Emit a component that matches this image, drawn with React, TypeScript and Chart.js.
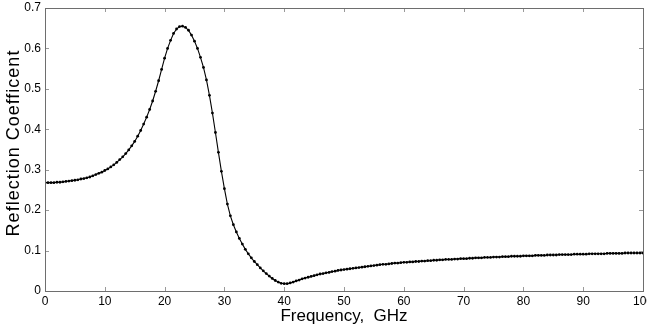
import React, { useEffect, useRef } from "react";
import { Chart, registerables } from "chart.js";

Chart.register(...registerables);

// Frequency grid (GHz): samples every 0.5 GHz from 0 to 100
const FREQ_START = 0;
const FREQ_STEP = 0.5;

// Reflection coefficient, one value per 0.5 GHz
const reflection: number[] = [
  0.268, 0.268, 0.268, 0.268, 0.269, 0.269, 0.270, 0.271, 0.272, 0.273,
  0.274, 0.275, 0.277, 0.278, 0.280, 0.282, 0.285, 0.288, 0.291, 0.294,
  0.298, 0.302, 0.307, 0.312, 0.318, 0.325, 0.332, 0.340, 0.349, 0.359,
  0.370, 0.383, 0.397, 0.413, 0.430, 0.449, 0.470, 0.494, 0.520, 0.548,
  0.576, 0.600, 0.620, 0.637, 0.648, 0.654, 0.655, 0.652, 0.645, 0.633,
  0.618, 0.600, 0.578, 0.553, 0.522, 0.484, 0.440, 0.392, 0.343, 0.296,
  0.253, 0.215, 0.186, 0.164, 0.146, 0.130, 0.116, 0.103, 0.092, 0.082,
  0.073, 0.065, 0.057, 0.050, 0.043, 0.037, 0.031, 0.026, 0.022, 0.019,
  0.018, 0.018, 0.020, 0.022, 0.025, 0.027, 0.030, 0.032, 0.034, 0.036,
  0.038, 0.040, 0.042, 0.043, 0.045, 0.046, 0.048, 0.049, 0.051, 0.052,
  0.053, 0.054, 0.055, 0.056, 0.057, 0.058, 0.059, 0.060, 0.061, 0.062,
  0.063, 0.064, 0.065, 0.066, 0.066, 0.067, 0.068, 0.069, 0.069, 0.070,
  0.071, 0.071, 0.072, 0.072, 0.073, 0.073, 0.074, 0.074, 0.075, 0.075,
  0.076, 0.076, 0.077, 0.077, 0.078, 0.078, 0.078, 0.079, 0.079, 0.080,
  0.080, 0.080, 0.081, 0.081, 0.082, 0.082, 0.082, 0.083, 0.083, 0.083,
  0.084, 0.084, 0.084, 0.085, 0.085, 0.085, 0.086, 0.086, 0.086, 0.086,
  0.087, 0.087, 0.087, 0.087, 0.088, 0.088, 0.088, 0.088, 0.089, 0.089,
  0.089, 0.089, 0.090, 0.090, 0.090, 0.090, 0.090, 0.091, 0.091, 0.091,
  0.091, 0.091, 0.092, 0.092, 0.092, 0.092, 0.092, 0.092, 0.093, 0.093,
  0.093, 0.093, 0.093, 0.093, 0.094, 0.094, 0.094, 0.094, 0.094, 0.094,
  0.094,
];

const frequency: number[] = reflection.map((_, i) => FREQ_START + i * FREQ_STEP);

const X_MIN = 0;
const X_MAX = 100;
const X_STEP = 10;
const Y_MIN = 0;
const Y_MAX = 0.7;
const Y_STEP = 0.1;

const X_TITLE = "Frequency,  GHz";
const Y_TITLE = "Reflection Coefficent";

const FONT = "'Liberation Sans', Arial, Helvetica, sans-serif";

const frameTicks = {
  id: "frameTicks",
  afterDraw(chart: any) {
    const { ctx, chartArea } = chart;
    const { left, right, top, bottom } = chartArea;
    const xs = chart.scales.x;
    const ys = chart.scales.y;
    const L = 4;
    ctx.save();
    ctx.lineWidth = 1;
    ctx.strokeStyle = "#9a9a9a";
    ctx.beginPath();
    xs.ticks.forEach((t: any) => {
      const px = Math.round(xs.getPixelForValue(t.value)) + 0.5;
      ctx.moveTo(px, bottom);
      ctx.lineTo(px, bottom - L);
      ctx.moveTo(px, top);
      ctx.lineTo(px, top + L);
    });
    ys.ticks.forEach((t: any) => {
      const py = Math.round(ys.getPixelForValue(t.value)) + 0.5;
      ctx.moveTo(left, py);
      ctx.lineTo(left + L, py);
      ctx.moveTo(right, py);
      ctx.lineTo(right - L, py);
    });
    ctx.stroke();
    ctx.strokeStyle = "#6e6e6e";
    ctx.strokeRect(Math.round(left) + 0.5, Math.round(top) + 0.5, Math.round(right - left), Math.round(bottom - top));

    // Y axis title (rotated), centred a little above the middle of the plot as in the reference
    ctx.translate(14, 143);
    ctx.rotate(-Math.PI / 2);
    ctx.font = `18px ${FONT}`;
    try {
      (ctx as any).letterSpacing = "1px";
    } catch (e) {}
    ctx.fillStyle = "#000";
    ctx.textAlign = "center";
    ctx.textBaseline = "middle";
    ctx.fillText(Y_TITLE, 0, 0);
    ctx.restore();
  },
};

export default function App() {
  const ref = useRef<HTMLCanvasElement | null>(null);

  useEffect(() => {
    if (!ref.current) return;
    const points = frequency.map((f, i) => ({ x: f, y: reflection[i] }));
    const chart = new Chart(ref.current, {
      type: "line",
      data: {
        datasets: [
          {
            data: points,
            borderColor: "#000",
            borderWidth: 1.1,
            pointRadius: 1.4,
            pointBackgroundColor: "#000",
            pointBorderWidth: 0,
            tension: 0,
            fill: false,
          },
        ],
      },
      options: {
        animation: false,
        responsive: false,
        events: [],
        layout: { padding: { top: 8, right: 4, left: 0, bottom: 0 } },
        plugins: { legend: { display: false }, tooltip: { enabled: false } },
        scales: {
          x: {
            type: "linear",
            min: X_MIN,
            max: X_MAX,
            grid: { display: false, drawTicks: false, tickLength: 0 },
            border: { display: false },
            ticks: {
              stepSize: X_STEP,
              autoSkip: false,
              maxRotation: 0,
              padding: 3,
              color: "#000",
              font: { family: FONT, size: 12 },
            },
            title: {
              display: true,
              text: X_TITLE,
              color: "#000",
              font: { family: FONT, size: 17 },
              padding: { top: 0, bottom: 2 },
            },
            afterFit: (s: any) => {
              s.height = 38;
              s.paddingLeft = 0;
              s.paddingRight = 0;
            },
          },
          y: {
            min: Y_MIN,
            max: Y_MAX,
            grid: { display: false, drawTicks: false, tickLength: 0 },
            border: { display: false },
            ticks: {
              stepSize: Y_STEP,
              autoSkip: false,
              padding: 4,
              color: "#000",
              font: { family: FONT, size: 12 },
              callback: (v: any) => String(Math.round(Number(v) * 10) / 10),
            },
            title: { display: false },
            afterFit: (s: any) => {
              s.width = 45;
              s.paddingTop = 0;
              s.paddingBottom = 0;
            },
          },
        },
      },
      plugins: [frameTicks],
    });
    return () => chart.destroy();
  }, []);

  return (
    <div style={{ position: "fixed", left: 0, top: 0, width: 647, height: 329, background: "#fff" }}>
      <canvas ref={ref} width={647} height={329} style={{ display: "block" }} />
    </div>
  );
}
